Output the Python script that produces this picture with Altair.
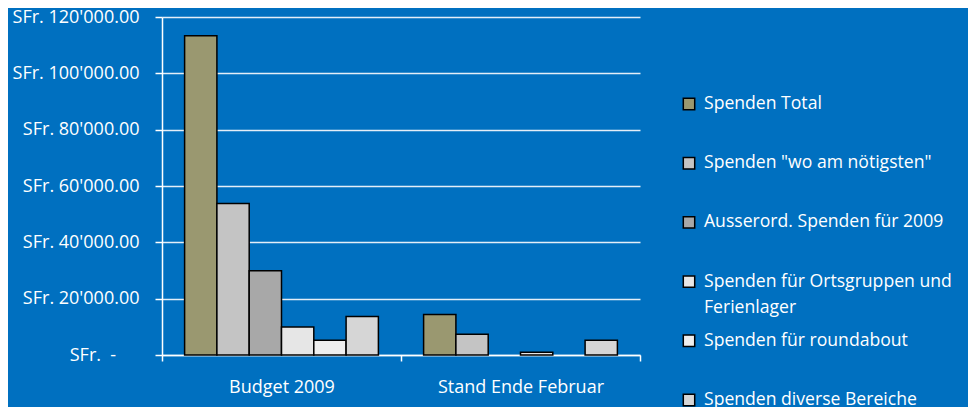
import altair as alt
import pandas as pd

categories = ["Budget 2009", "Stand Ende Februar"]
series = [
    "Spenden Total",
    'Spenden "wo am nötigsten"',
    "Ausserord. Spenden für 2009",
    "Spenden für Ortsgruppen und Ferienlager",
    "Spenden für roundabout",
    "Spenden diverse Bereiche",
]
budget_2009 = [113300, 53800, 29900, 9900, 5200, 13700]
stand_feb = [14400, 7400, 0, 1000, 0, 5200]
fills = ["#9A9870", "#C4C4C4", "#A8A8A8", "#E6E6E6", "#EEEEEE", "#D6D6D6"]
y_ticks = [0, 20000, 40000, 60000, 80000, 100000, 120000]

rows = []
for cat, vals in zip(categories, [budget_2009, stand_feb]):
    for s, v in zip(series, vals):
        rows.append({"Kategorie": cat, "Serie": s, "Wert": v})
df = pd.DataFrame(rows)
legend_df = pd.DataFrame({"Serie": series, "idx": list(range(len(series)))})

FONT = "Open Sans"
NB = "\u00a0"

label_expr = (
    "datum.value == 0 ? 'SFr." + NB + NB + "-" + NB * 5 + "\u200b' : "
    "'SFr. ' + replace(format(datum.value, ',.2f'), /,/g, \"'\")"
)
wrap_expr = (
    "datum.Serie == 'Spenden für Ortsgruppen und Ferienlager' ? "
    "['Spenden für Ortsgruppen und', 'Ferienlager'] : datum.Serie"
)

fill_scale = alt.Scale(domain=series, range=fills)

bars = (
    alt.Chart(df)
    .transform_filter("datum.Wert > 0")
    .mark_bar(stroke="black", strokeWidth=1.5)
    .encode(
        x=alt.X(
            "Kategorie:N",
            sort=categories,
            scale=alt.Scale(paddingInner=0, paddingOuter=0),
            axis=alt.Axis(
                title=None,
                labelAngle=0,
                tickBand="extent",
                labelPadding=17,
                tickSize=6,
            ),
        ),
        xOffset=alt.XOffset(
            "Serie:N",
            sort=series,
            scale=alt.Scale(paddingInner=0, paddingOuter=0.7),
        ),
        y=alt.Y(
            "Wert:Q",
            scale=alt.Scale(domain=[0, 120000]),
            axis=alt.Axis(
                title=None,
                values=y_ticks,
                labelExpr=label_expr,
                tickSize=7,
                labelPadding=16,
                grid=True,
            ),
        ),
        fill=alt.Fill("Serie:N", scale=fill_scale, legend=None),
    )
)

legend_y = alt.Y(
    "idx:Q", scale=alt.Scale(domain=[0, 5], range=[87, 383]), axis=None
)

legend_symbols = (
    alt.Chart(legend_df)
    .mark_square(size=130, stroke="black", strokeWidth=1.5, opacity=1)
    .encode(
        x=alt.value(527),
        y=legend_y,
        fill=alt.Fill("Serie:N", scale=fill_scale, legend=None),
    )
)

legend_text = (
    alt.Chart(legend_df)
    .transform_calculate(lab=wrap_expr)
    .mark_text(
        align="left",
        baseline="top",
        dy=-9,
        font=FONT,
        fontSize=17.6,
        lineHeight=26,
        color="white",
    )
    .encode(
        x=alt.value(542),
        y=legend_y,
        text="lab:N",
    )
)

chart = (
    alt.layer(bars, legend_symbols, legend_text)
    .resolve_scale(y="independent")
    .properties(
        width=478,
        height=338,
        background="#0070C0",
        autosize=alt.AutoSizeParams(type="none"),
        padding={"left": 154, "top": 9, "right": 328, "bottom": 52},
    )
    .configure_view(stroke=None)
    .configure_axis(
        labelColor="white",
        labelFont=FONT,
        labelFontSize=18,
        domainColor="white",
        domainWidth=1.5,
        tickColor="white",
        tickWidth=1.5,
        gridColor="#E4EEF8",
        gridWidth=1.5,
    )
)

chart.save("out.html", embed_options={"renderer": "svg", "actions": False})
